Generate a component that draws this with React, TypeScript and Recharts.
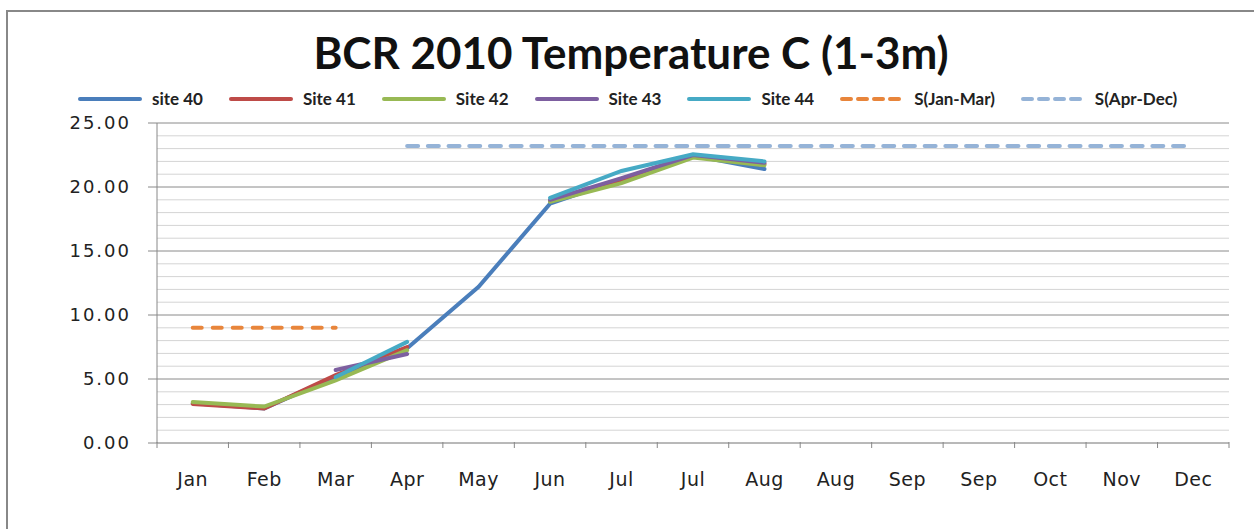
import { LineChart, Line, XAxis, YAxis, CartesianGrid, ReferenceLine } from 'recharts';

const months = ['Jan', 'Feb', 'Mar', 'Apr', 'May', 'Jun', 'Jul', 'Jul', 'Aug', 'Aug', 'Sep', 'Sep', 'Oct', 'Nov', 'Dec'];

// temperature (C) per month slot, null = no reading
const site40 = [3.1, 2.7, 5.2, 7.4, 12.2, 18.7, 20.6, 22.45, 21.4, null, null, null, null, null, null];
const site41 = [3.05, 2.7, 5.3, 7.5, null, 18.9, 20.5, 22.4, 21.8, null, null, null, null, null, null];
const site42 = [3.2, 2.85, 4.9, 7.25, null, 18.85, 20.3, 22.3, 21.7, null, null, null, null, null, null];
const site43 = [null, null, 5.7, 6.95, null, 19.0, 20.7, 22.5, 21.9, null, null, null, null, null, null];
const site44 = [null, null, 5.15, 7.9, null, 19.15, 21.25, 22.55, 22.0, null, null, null, null, null, null];
const sJanMar = [9.0, 9.0, 9.0, null, null, null, null, null, null, null, null, null, null, null, null];
const sAprDec = [null, null, null, 23.2, 23.2, 23.2, 23.2, 23.2, 23.2, 23.2, 23.2, 23.2, 23.2, 23.2, 23.2];

const yTicks = [0, 1, 2, 3, 4, 5, 6, 7, 8, 9, 10, 11, 12, 13, 14, 15, 16, 17, 18, 19, 20, 21, 22, 23, 24, 25];
const majorTicks = [5, 10, 15, 20, 25];

const series = [
  { key: 's40', name: 'site 40', color: '#4A7EBB', dash: undefined },
  { key: 's41', name: 'Site 41', color: '#BE4B48', dash: undefined },
  { key: 's42', name: 'Site 42', color: '#98B954', dash: undefined },
  { key: 's43', name: 'Site 43', color: '#7D5FA0', dash: undefined },
  { key: 's44', name: 'Site 44', color: '#46AAC5', dash: undefined },
  { key: 'sJM', name: 'S(Jan-Mar)', color: '#E8853B', dash: '9 11' },
  { key: 'sAD', name: 'S(Apr-Dec)', color: '#95B3D7', dash: '11 9.7' },
];

const data = months.map((m, i) => ({
  idx: i,
  s40: site40[i],
  s41: site41[i],
  s42: site42[i],
  s43: site43[i],
  s44: site44[i],
  sJM: sJanMar[i],
  sAD: sAprDec[i],
}));

const W = 1246;
const H = 517;
const margin = { top: 111, right: 25, bottom: 0, left: 0 };
const Y_AXIS_W = 149;
const X_AXIS_H = 86;
const plotW = W - margin.left - margin.right - Y_AXIS_W;
const band = plotW / months.length;

function YTick(props: any) {
  const { x, y, payload } = props;
  const v = payload.value;
  if (v % 5 !== 0) return null;
  return (
    <g>
      <line x1={x} y1={y} x2={x + 9} y2={y} stroke="#888" strokeWidth={1} />
      <text x={x - 17} y={y} dy={6} textAnchor="end" fontFamily="DejaVu Sans" fontSize={18} letterSpacing={2} fill="#222">
        {v.toFixed(2)}
      </text>
    </g>
  );
}

function XTick(props: any) {
  const { x, y, payload, index } = props;
  const top = y - 9;
  return (
    <g>
      <line x1={x - band / 2} y1={top} x2={x - band / 2} y2={top + 6} stroke="#888" />
      {index === months.length - 1 && (
        <line x1={x + band / 2} y1={top} x2={x + band / 2} y2={top + 6} stroke="#888" />
      )}
      <text x={x} y={top + 44} textAnchor="middle" fontFamily="DejaVu Sans" fontSize={19} letterSpacing={0.5} fill="#222">
        {months[payload.value]}
      </text>
    </g>
  );
}

function ChartLegend() {
  return (
    <div
      style={{
        position: 'absolute',
        left: 70,
        top: 76,
        display: 'flex',
        alignItems: 'center',
        gap: 26,
        fontFamily: 'Lato',
        fontWeight: 700,
        fontSize: 17,
        color: '#222',
      }}
    >
      {series.map((s) => (
        <div key={s.key} style={{ display: 'flex', alignItems: 'center', gap: 10 }}>
          <svg width={64} height={8}>
            <line x1={2} y1={4} x2={62} y2={4} stroke={s.color} strokeWidth={4} strokeLinecap="round" strokeDasharray={s.dash ? '9 7' : undefined} />
          </svg>
          <span>{s.name}</span>
        </div>
      ))}
    </div>
  );
}

export default function App() {
  return (
    <div
      style={{
        position: 'absolute',
        left: 6,
        top: 10,
        width: 1248,
        height: 519,
        boxSizing: 'border-box',
        borderTop: '2px solid #888',
        borderLeft: '2px solid #888',
        background: '#fff',
      }}
    >
      <div
        style={{
          position: 'absolute',
          left: 0,
          width: W,
          top: 14,
          textAlign: 'center',
          fontFamily: 'Lato',
          fontWeight: 700,
          fontSize: 44,
          color: '#111',
        }}
      >
        BCR 2010 Temperature C (1-3m)
      </div>
      <ChartLegend />
      <LineChart width={W} height={H} data={data} margin={margin}>
        <CartesianGrid vertical={false} stroke="#d4d4d4" strokeWidth={1} />
        {majorTicks.map((t) => (
          <ReferenceLine key={t} y={t} stroke="#a0a0a0" strokeWidth={1} />
        ))}
        <XAxis
          dataKey="idx"
          type="category"
          height={X_AXIS_H}
          padding={{ left: band / 2, right: band / 2 }}
          axisLine={{ stroke: '#888' }}
          tickLine={false}
          tick={<XTick />}
          interval={0}
        />
        <YAxis
          domain={[0, 25]}
          ticks={yTicks}
          interval={0}
          width={Y_AXIS_W}
          axisLine={{ stroke: '#888' }}
          tickLine={false}
          tickSize={9}
          tickMargin={0}
          tick={<YTick />}
        />
        {series.map((s) => (
          <Line
            key={s.key}
            dataKey={s.key}
            name={s.name}
            stroke={s.color}
            strokeWidth={4}
            strokeDasharray={s.dash}
            strokeLinecap="round"
            dot={false}
            activeDot={false}
            isAnimationActive={false}
          />
        ))}
      </LineChart>
    </div>
  );
}
